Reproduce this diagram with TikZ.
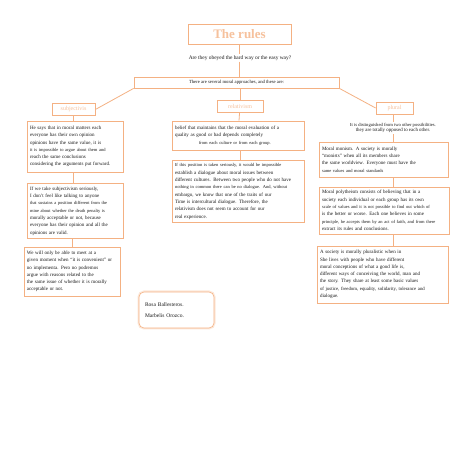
\documentclass[tikz,border=0pt]{standalone}
\usepackage{fontspec}
\setmainfont{Liberation Serif}
\usetikzlibrary{positioning}
\definecolor{peach}{RGB}{244,177,131}
\definecolor{blush}{RGB}{248,203,173}
\definecolor{ink}{RGB}{25,25,25}
\newcommand{\smline}{\fontsize{4.5}{7.3}\selectfont}
\tikzset{
  head/.style={draw=peach,line width=0.8pt,minimum width=103pt,minimum height=20pt,
    font=\fontsize{13}{15}\selectfont\bfseries,text=blush!60!peach},
  topic/.style={draw=peach,line width=0.8pt,minimum height=12pt,inner sep=1pt,
    font=\fontsize{6}{7}\selectfont,text=blush!60!peach},
  card/.style={draw=peach,line width=0.8pt,fill=white,align=left,inner sep=3pt,
    font=\fontsize{5}{7.3}\selectfont,text=ink},
  ask/.style={font=\fontsize{5.4}{7}\selectfont,text=ink,inner sep=1pt},
  bar/.style={draw=peach,line width=0.8pt,minimum width=205pt,minimum height=11pt,inner sep=0pt,
    font=\fontsize{4.7}{6}\selectfont,text=ink},
  tag/.style={font=\fontsize{4.6}{5.6}\selectfont,text=ink,align=center,inner sep=1pt},
  sign/.style={draw=peach,line width=0.6pt,rounded corners=5pt,fill=white,
    preaction={draw=blush!45,line width=3pt},align=left,inner sep=6pt,
    font=\fontsize{5.5}{11}\selectfont,text=ink},
  link/.style={draw=peach,line width=0.8pt},
}
\begin{document}
\begin{tikzpicture}[x=1pt,y=-1pt]
  \useasboundingbox[fill=white] (0,0) rectangle (474,470);
  % top of the map
  \node[head] (rules) at (239.5,34) {The rules};
  \node[ask] (ask) at (240,58) {Are they obeyed the hard way or the easy way?};
  \node[bar] (ways) at (236.5,82.5) {There are several moral approaches, and these are:};
  \node[topic,minimum width=43pt] (subj) at (73.5,109.5) {subjectivis};
  \node[topic,minimum width=46pt] (rel) at (240,106) {relativism};
  \node[topic,minimum width=37pt] (plur) at (394.5,108) {plural};
  % subjectivism
  \node[card,text width=90pt,minimum height=51pt] (s1) at (75,146.5) {He says that in moral matters each\\
    everyone has their own opinion\\
    opinions have the same value, it is\\
    {\smline it is impossible to argue about them and}\\
    reach the same conclusions\\
    considering the arguments put forward.};
  \node[card,text width=90pt,minimum height=52pt] (s2) at (75,211) {If we take subjectivism seriously,\\
    I don't feel like talking to anyone\\
    {\smline that sustains a position different from the}\\
    {\smline mine about whether the death penalty is}\\
    morally acceptable or not, because\\
    everyone has their opinion and all the\\
    opinions are valid.};
  \node[card,text width=90pt,minimum height=49pt] (s3) at (72,271.5) {We will only be able to meet at a\\
    given moment when ``it is convenient'' or\\
    no implementa. Pero no podremos\\
    argue with reasons related to the\\
    the same issue of whether it is morally\\
    acceptable or not.};
  % relativism
  \node[card,text width=126pt,minimum height=29pt] (r1) at (238,135.5) {belief that maintains that the moral evaluation of a\\
    quality as good or bad depends completely\\
    \hspace*{24pt}{\smline from each culture or from each group.}};
  \node[card,text width=126pt,minimum height=61pt] (r2) at (238,191.5) {{\smline If this position is taken seriously, it would be impossible}\\
    establish a dialogue about moral issues between\\
    different cultures. Between two people who do not have\\
    {\smline nothing in common there can be no dialogue. And, without}\\
    embargo, we know that one of the traits of our\\
    Time is intercultural dialogue. Therefore, the\\
    relativism does not seem to account for our\\
    real experience.};
  % pluralism
  \node[tag] (pnote) at (393,128) {It is distinguished from two other possibilities.\\
    {\fontsize{4.9}{5.6}\selectfont they are totally opposed to each other.}};
  \node[card,text width=123pt,minimum height=35pt] (p1) at (383.5,159.5) {Moral monism. A society is morally\\
    ``monists'' when all its members share\\
    the same worldview. Everyone must have the\\
    {\smline same values and moral standards}};
  \node[card,text width=124pt,minimum height=47pt] (p2) at (384,210.5) {Moral polytheism consists of believing that in a\\
    society each individual or each group has its own\\
    {\smline scale of values and it is not possible to find out which of}\\
    is the better or worse. Each one believes in some\\
    {\smline principle, he accepts them by an act of faith, and from there}\\
    extract its rules and conclusions.};
  \node[card,text width=126pt,minimum height=57pt,inner sep=2.5pt] (p3) at (383,274.5) {A society is morally pluralistic when in\\
    She lives with people who have different\\
    moral conceptions of what a good life is,\\
    different ways of conceiving the world, man and\\
    the story. They share at least some basic values\\
    {\fontsize{4.8}{7.3}\selectfont of justice, freedom, equality, solidarity, tolerance and}\\
    dialogue.};
  % authors
  \node[sign,text width=63pt,minimum height=36pt] (names) at (176.5,310) {Rosa Ballesteros.\\Marbelis Orozco.};
  % links
  \draw[link] (rules.south) -- (rules.south |- ask.north);
  \draw[link] (ask.south -| rules.south) -- (rules.south |- ways.north);
  \draw[link] (ways.south -| rel) -- (rel.north);
  \draw[link] (ways.south west) -- (subj.east);
  \draw[link] (ways.south east) -- (plur.west);
  \draw[link] (subj.south) -- (subj.south |- s1.north);
  \draw[link] (s1.south -| subj) -- (subj |- s2.north);
  \draw[link] (s2.south -| s3) -- (s3.north);
  \draw[link] (rel) -- (r1);
  \draw[link] (r1.south -| rel) -- (rel |- r2.north);
  \draw[link] (plur.south -| pnote) -- (pnote.north);
  \draw[link] (pnote.south) -- (pnote.south |- p1.north);
  \draw[link] (p1.south -| pnote) -- (pnote |- p2.north);
  \draw[link] (p2.south -| pnote) -- (pnote |- p3.north);
\end{tikzpicture}
\end{document}
